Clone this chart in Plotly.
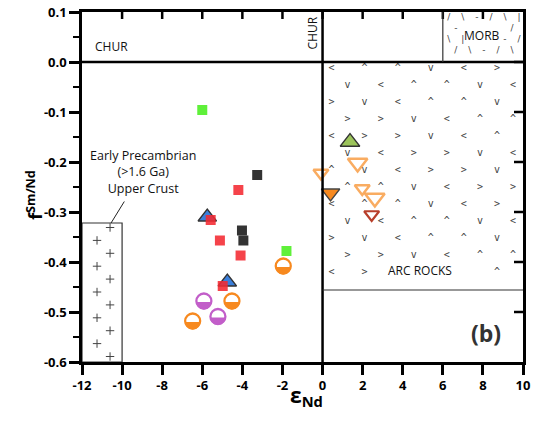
import numpy as np
import plotly.graph_objects as go

# ---------------- data ----------------
green_sq_eps = [-6.0, -1.8]
green_sq_f = [-0.096, -0.378]

red_sq_eps = [-4.2, -5.58, -5.12, -4.09, -4.98]
red_sq_f = [-0.256, -0.316, -0.357, -0.387, -0.448]

dark_sq_eps = [-3.26, -4.02, -3.95]
dark_sq_f = [-0.226, -0.337, -0.357]

blue_tri_eps = [-5.75, -4.75]
blue_tri_f = [-0.31, -0.44]

green_tri_eps = [1.37]
green_tri_f = [-0.16]

orange_open_dn_eps = [-0.08, 1.75, 1.98, 2.61]
orange_open_dn_f = [-0.222, -0.202, -0.253, -0.272]
orange_open_dn_size = [13, 17, 13, 17]

orange_fill_dn_eps = [0.40]
orange_fill_dn_f = [-0.262]

darkred_dn_eps = [2.45]
darkred_dn_f = [-0.305]

orange_half_eps = [-1.96, -4.52, -6.48]
orange_half_f = [-0.408, -0.478, -0.518]

purple_half_eps = [-5.92, -5.22]
purple_half_f = [-0.478, -0.509]

# field boundaries
CHUR_EPS = 0.0
CHUR_F = 0.0
MORB_EPS_MIN = 6.0
ARC_F_MIN = -0.456
PRECAMB_EPS_MAX = -10.0
PRECAMB_F_MAX = -0.322

x_ticks = list(range(-12, 11, 2))
y_ticks = [-0.6, -0.5, -0.4, -0.3, -0.2, -0.1, 0.0, 0.1]
y_ticktext = ["-0.6", "-0.5", "-0.4", "-0.3", "-0.2", "-0.1", "0.0", "0.1"]
x_ticktext = [str(v) for v in x_ticks]

XR = [-12, 10]
YR = [-0.6, 0.1]

# ---------------- layout constants ----------------
W, H = 535, 425
ML, MR, MT, MB = 82, 12, 12, 63
PX_X = (W - ML - MR) / (XR[1] - XR[0])
PX_Y = (H - MT - MB) / (YR[1] - YR[0])

FONT = "Open Sans"
ORANGE = "#f7891f"
PURPLE = "#c25ec9"
PAT = "#444444"

fig = go.Figure()

# ---------- background patterns ----------
# ARC ROCKS chevrons
arc_chars = ["<", ">", "^", "v", "<", "^", ">", "v"]
ax_, ay_, at_ = [], [], []
ys = np.arange(-0.012, ARC_F_MIN + 0.01, -0.034)
for i, yy in enumerate(ys):
    off = 0.0 if i % 2 == 0 else 0.8
    xs = np.arange(0.45 + off, 9.9, 1.65)
    for j, xx in enumerate(xs):
        if -0.44 < yy < -0.39 and 2.6 < xx < 7.2:
            continue
        ax_.append(xx); ay_.append(yy)
        at_.append(arc_chars[(i * 3 + j * 5) % len(arc_chars)])
fig.add_trace(go.Scatter(x=ax_, y=ay_, text=at_, mode="text",
                         textfont=dict(family="DejaVu Sans Mono", size=10, color=PAT),
                         hoverinfo="skip", showlegend=False))

# MORB dashes
morb_chars = ["/", "\\", "-", "/", "\\", "|"]
mx, my, mt = [], [], []
for i, yy in enumerate([0.088, 0.066, 0.044, 0.022]):
    off = 0.0 if i % 2 == 0 else 0.35
    for j, xx in enumerate(np.arange(6.3 + off, 9.9, 0.7)):
        if 0.035 < yy < 0.075 and 7.0 < xx < 8.9:
            continue
        mx.append(xx); my.append(yy)
        mt.append(morb_chars[(i * 2 + j) % len(morb_chars)])
fig.add_trace(go.Scatter(x=mx, y=my, text=mt, mode="text",
                         textfont=dict(family="DejaVu Sans", size=9, color=PAT),
                         hoverinfo="skip", showlegend=False))

# Precambrian crosses
px_, py_ = [], []
for i, yy in enumerate(np.arange(PRECAMB_F_MAX - 0.009, -0.6, -0.0258)):
    px_.append(-10.6 if i % 2 == 0 else -11.25)
    py_.append(yy)
fig.add_trace(go.Scatter(x=px_, y=py_, mode="markers",
                         marker=dict(symbol="cross-thin", size=6,
                                     line=dict(color=PAT, width=1)),
                         hoverinfo="skip", showlegend=False))

# ---------- field lines ----------
line_kw = dict(xref="x", yref="y", layer="above")
fig.add_shape(type="line", x0=XR[0], x1=XR[1], y0=CHUR_F, y1=CHUR_F,
              line=dict(color="black", width=2.5), **line_kw)
fig.add_shape(type="line", x0=CHUR_EPS, x1=CHUR_EPS, y0=YR[0], y1=YR[1],
              line=dict(color="black", width=2.5), **line_kw)
fig.add_shape(type="line", x0=MORB_EPS_MIN, x1=MORB_EPS_MIN, y0=CHUR_F, y1=YR[1],
              line=dict(color="#333", width=1.2), **line_kw)
fig.add_shape(type="line", x0=CHUR_EPS, x1=XR[1], y0=ARC_F_MIN, y1=ARC_F_MIN,
              line=dict(color="#333", width=1.2), **line_kw)
fig.add_shape(type="rect", x0=XR[0], x1=PRECAMB_EPS_MAX, y0=YR[0], y1=PRECAMB_F_MAX,
              line=dict(color="#333", width=1.2), **line_kw)
fig.add_shape(type="line", x0=-10.55, x1=-9.89, y0=PRECAMB_F_MAX, y1=-0.279,
              line=dict(color="#222", width=1), **line_kw)

# inside ticks on the top and right frame edges (from the tick arrays)
TOP_TICK = 7 / PX_Y
RIGHT_TICK = 9 / PX_X
tx, ty = [], []
for xv in x_ticks[1:-1]:
    tx += [xv, xv, None]
    ty += [YR[1], YR[1] - TOP_TICK, None]
for yv in y_ticks[1:-1]:
    tx += [XR[1], XR[1] - RIGHT_TICK, None]
    ty += [yv, yv, None]
fig.add_trace(go.Scatter(x=tx, y=ty, mode="lines", line=dict(color="black", width=2.5),
                         hoverinfo="skip", showlegend=False))

# ---------- data traces ----------
fig.add_trace(go.Scatter(x=dark_sq_eps, y=dark_sq_f, mode="markers",
                         marker=dict(symbol="square", size=10, color="#333333"),
                         showlegend=False))
fig.add_trace(go.Scatter(x=green_sq_eps, y=green_sq_f, mode="markers",
                         marker=dict(symbol="square", size=10, color="#5ff03a"),
                         showlegend=False))
fig.add_trace(go.Scatter(x=blue_tri_eps, y=blue_tri_f, mode="markers",
                         marker=dict(symbol="triangle-up", size=16, color="#3a7fdb",
                                     line=dict(color="#333", width=1.3)),
                         showlegend=False))
fig.add_trace(go.Scatter(x=red_sq_eps, y=red_sq_f, mode="markers", opacity=0.88,
                         marker=dict(symbol="square", size=10, color="#f42a32"),
                         showlegend=False))
fig.add_trace(go.Scatter(x=green_tri_eps, y=green_tri_f, mode="markers",
                         marker=dict(symbol="triangle-up", size=17, color="#9cc45b",
                                     line=dict(color="#333", width=1.3)),
                         showlegend=False))
fig.add_trace(go.Scatter(x=orange_open_dn_eps, y=orange_open_dn_f, mode="markers",
                         marker=dict(symbol="triangle-down", size=orange_open_dn_size,
                                     color="white", line=dict(color=ORANGE, width=2.5)),
                         showlegend=False))
fig.add_trace(go.Scatter(x=orange_fill_dn_eps, y=orange_fill_dn_f, mode="markers",
                         marker=dict(symbol="triangle-down", size=16, color=ORANGE,
                                     line=dict(color="#444", width=1.3)),
                         showlegend=False))
fig.add_trace(go.Scatter(x=darkred_dn_eps, y=darkred_dn_f, mode="markers",
                         marker=dict(symbol="triangle-down", size=13, color="rgba(0,0,0,0)",
                                     line=dict(color="#b83f2b", width=2.2)),
                         showlegend=False))


def half_disc(xs, ys, r_px, drop_px=1.0):
    """Lower half-disc polygons around each point, built in data space."""
    t = np.linspace(np.pi, 2 * np.pi, 30)
    hx, hy = [], []
    for x0, y0 in zip(xs, ys):
        yc = y0 - drop_px / PX_Y
        hx += list(x0 + r_px / PX_X * np.cos(t)) + [None]
        hy += list(yc + r_px / PX_Y * np.sin(t)) + [None]
    return hx, hy


for xs, ys, col in [(orange_half_eps, orange_half_f, ORANGE),
                    (purple_half_eps, purple_half_f, PURPLE)]:
    hx, hy = half_disc(xs, ys, 7.6)
    fig.add_trace(go.Scatter(x=hx, y=hy, mode="lines", fill="toself",
                             fillcolor=col, line=dict(width=0, color=col),
                             hoverinfo="skip", showlegend=False))
    fig.add_trace(go.Scatter(x=xs, y=ys, mode="markers",
                             marker=dict(symbol="circle", size=15,
                                         color="rgba(0,0,0,0)",
                                         line=dict(color=col, width=2.3)),
                             showlegend=False))

# ---------- annotations ----------
ann_font = dict(family=FONT, size=12, color="#111")
anns = [
    dict(x=-11.45, y=0.032, text="CHUR", xanchor="left", showarrow=False, font=ann_font),
    dict(x=-0.55, y=0.058, text="CHUR", textangle=-90, showarrow=False, font=ann_font),
    dict(x=7.95, y=0.054, text="MORB", showarrow=False, font=ann_font),
    dict(x=4.86, y=-0.416, text="ARC ROCKS", showarrow=False, font=ann_font),
    dict(x=-8.96, y=-0.219, text="Early Precambrian<br>(>1.6 Ga)<br>Upper Crust",
         showarrow=False, font=dict(family=FONT, size=12.5, color="#111")),
    dict(x=8.15, y=-0.542, text="<b>(b)</b>", showarrow=False,
         font=dict(family=FONT, size=23, color="#333")),
    dict(xref="paper", yref="paper", x=0.508, y=-0.146, text="<b>ε<sub>Nd</sub></b>",
         showarrow=False, font=dict(family=FONT, size=21, color="black")),
    dict(xref="paper", yref="paper", x=-0.141, y=0.477, text="<b>f<sup>Sm/Nd</sup></b>",
         textangle=-90, showarrow=False, font=dict(family=FONT, size=18, color="black")),
]
for a in anns:
    a.setdefault("xref", "x")
    a.setdefault("yref", "y")
    fig.add_annotation(**a)

tick_font = dict(family=FONT, size=13, color="black", weight="bold")
fig.update_layout(
    width=W, height=H,
    margin=dict(l=ML, r=MR, t=MT, b=MB, autoexpand=False),
    paper_bgcolor="white", plot_bgcolor="white",
    showlegend=False,
    xaxis=dict(range=XR, tickvals=x_ticks, ticktext=x_ticktext, ticks="outside",
               ticklen=10, tickwidth=2.5, tickcolor="black", showline=True,
               linewidth=2.5, linecolor="black", mirror=True, showgrid=False,
               zeroline=False, tickfont=tick_font, fixedrange=True, automargin=False),
    yaxis=dict(range=YR, tickvals=y_ticks, ticktext=y_ticktext, ticks="outside",
               ticklen=10, tickwidth=2.5, tickcolor="black", showline=True,
               linewidth=2.5, linecolor="black", mirror=True, showgrid=False,
               zeroline=False, tickfont=tick_font,
               minor=dict(dtick=0.05, tick0=0, ticks="outside", ticklen=6,
                          tickwidth=2, tickcolor="black"),
               fixedrange=True, automargin=False),
)

fig.write_html("out.html")
